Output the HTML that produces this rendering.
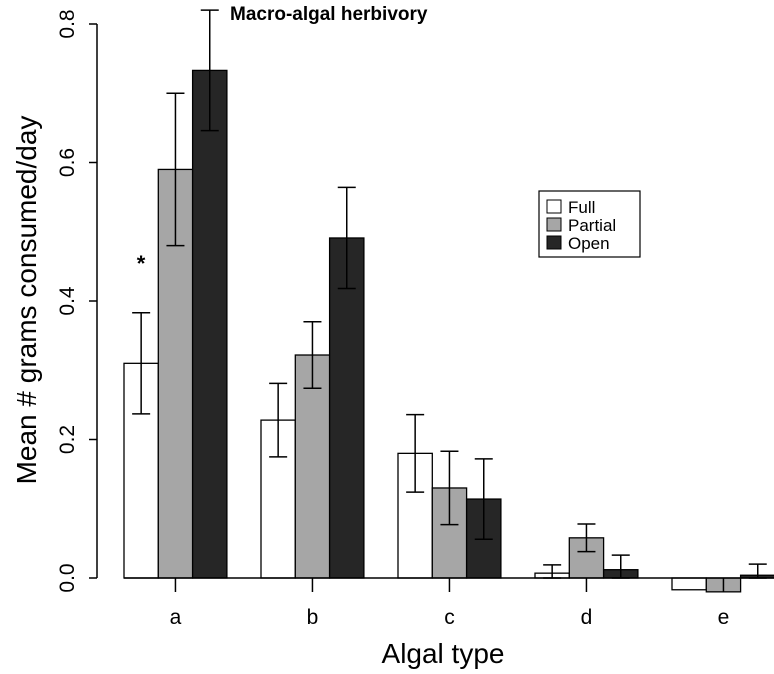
<!DOCTYPE html>
<html><head><meta charset="utf-8"><style>
body{margin:0;background:#fff}
svg text{font-family:"Liberation Sans",sans-serif}
</style></head><body>
<svg width="774" height="669" viewBox="0 0 774 669">
<g id="plot"></g>
</svg>
<script>
const categories=['a','b','c','d','e'];
const seriesNames=['Full','Partial','Open'];
const fullVals=[0.31,0.228,0.18,0.007,-0.017];
const partialVals=[0.59,0.322,0.13,0.058,-0.02];
const openVals=[0.733,0.491,0.114,0.012,0.004];
const fullErr=[0.073,0.053,0.056,0.012,0];
const partialErr=[0.11,0.048,0.053,0.02,0];
const openErr=[0.087,0.073,0.058,0.021,0.016];
const yTicks=[0,0.2,0.4,0.6,0.8];
const yTickLabels=['0.0','0.2','0.4','0.6','0.8'];

const NS='http://www.w3.org/2000/svg';
const g=document.getElementById('plot');
const y0=578,ppu=692.5;
const Y=v=>y0-v*ppu;
const groupStart=i=>124+i*137;
const bw=34.3;
const fills=['#ffffff','#a6a6a6','#262626'];
function mk(t,a){const e=document.createElementNS(NS,t);for(const k in a)e.setAttribute(k,a[k]);g.appendChild(e);return e;}
let ax=mk('line',{x1:97,y1:Y(0),x2:97,y2:Y(0.8),stroke:'#000','stroke-width':1.5});


yTicks.forEach((v,i)=>{
  const t=mk('line',{x1:89,x2:97,y1:Y(v),y2:Y(v),stroke:'#000','stroke-width':1.5});
  
  
  const l=mk('text',{x:0,y:0,'font-size':21,'text-anchor':'middle',transform:`translate(74,${Y(v)}) rotate(-90)`});
  l.textContent=yTickLabels[i];
  
  
});
const vals=[fullVals,partialVals,openVals],errs=[fullErr,partialErr,openErr];
categories.forEach((c,i)=>{
  for(let s=0;s<3;s++){
    const x=groupStart(i)+s*bw,v=vals[s][i];
    const r=mk('rect',{x:x,y:Math.min(Y(v),Y(0)),width:bw,height:Math.abs(Y(v)-Y(0)),fill:fills[s],stroke:'#000','stroke-width':1.3});
    
    
    const e=errs[s][i];
    if(e>0){
      const cx=x+bw/2;
      const el=mk('path',{d:`M${cx},${Y(v+e)}V${Y(Math.max(v-e,0))}M${cx-9},${Y(v+e)}H${cx+9}M${cx-9},${Y(Math.max(v-e,0))}H${cx+9}`,stroke:'#000','stroke-width':1.5,fill:'none'});
      
      
    }
  }
  const tx=groupStart(i)+bw*1.5;
  const tk=mk('line',{x1:tx,x2:tx,y1:y0,y2:y0+14,stroke:'#000','stroke-width':1.5});
  
  
  const tl=mk('text',{x:tx,y:624,'font-size':21,'text-anchor':'middle'});
  tl.textContent=c;
  
  
});
const bl=mk('line',{x1:groupStart(0),x2:774,y1:y0,y2:y0,stroke:'#000','stroke-width':1.5});


</script>
<svg width="774" height="669" style="position:absolute;left:0;top:0">
<text x="230" y="20" font-size="19" font-weight="bold" font-family="Liberation Sans,sans-serif">Macro-algal herbivory</text>
<text x="141" y="271" font-size="22" font-weight="bold" text-anchor="middle" font-family="Liberation Sans,sans-serif">*</text>
<text transform="translate(36,300) rotate(-90)" font-size="28" text-anchor="middle" font-family="Liberation Sans,sans-serif">Mean # grams consumed/day</text>
<text x="443" y="663" font-size="28" text-anchor="middle" font-family="Liberation Sans,sans-serif">Algal type</text>
<g>
<rect x="539" y="191" width="101" height="66" fill="#fff" stroke="#000" stroke-width="1.2"/>
<rect x="547" y="200" width="14" height="13" fill="#fff" stroke="#000"/>
<text x="568" y="213" font-size="17" font-family="Liberation Sans,sans-serif">Full</text>
<rect x="547" y="218" width="14" height="13" fill="#a6a6a6" stroke="#000"/>
<text x="568" y="231" font-size="17" font-family="Liberation Sans,sans-serif">Partial</text>
<rect x="547" y="236" width="14" height="13" fill="#262626" stroke="#000"/>
<text x="568" y="249" font-size="17" font-family="Liberation Sans,sans-serif">Open</text>
</g>
</svg>
</body></html>
